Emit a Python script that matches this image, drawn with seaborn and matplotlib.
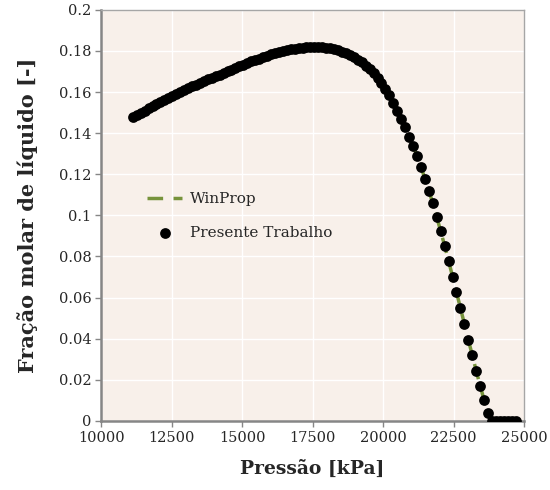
import numpy as np
import pandas as pd
import matplotlib
matplotlib.use("Agg")
import matplotlib.pyplot as plt
import seaborn as sns

pressure = [11120, 11260, 11400, 11540, 11680, 11820, 11960, 12100, 12240, 12380,
            12520, 12660, 12800, 12940, 13080, 13220, 13360, 13500, 13640, 13780,
            13920, 14060, 14200, 14340, 14480, 14620, 14760, 14900, 15040, 15180,
            15320, 15460, 15600, 15740, 15880, 16020, 16160, 16300, 16440, 16580,
            16720, 16860, 17000, 17140, 17280, 17420, 17560, 17700, 17840, 17980,
            18120, 18260, 18400, 18540, 18680, 18820, 18960, 19100, 19240, 19380,
            19520, 19660, 19800, 19940, 20080, 20220, 20360, 20500, 20640, 20780,
            20920, 21060, 21200, 21340, 21480, 21620, 21760, 21900, 22040, 22180,
            22320, 22460, 22600, 22740, 22880, 23020, 23160, 23300, 23440, 23580,
            23720, 23860, 24000, 24140, 24280, 24420, 24560, 24700]
frac_liq = [0.1477, 0.1488, 0.1499, 0.1510, 0.1520, 0.1531, 0.1541, 0.1551, 0.1561, 0.1571,
            0.1581, 0.1590, 0.1600, 0.1609, 0.1618, 0.1627, 0.1636, 0.1645, 0.1653, 0.1661,
            0.1669, 0.1677, 0.1685, 0.1693, 0.1701, 0.1709, 0.1717, 0.1725, 0.1733, 0.1741,
            0.1749, 0.1756, 0.1763, 0.1771, 0.1777, 0.1783, 0.1789, 0.1794, 0.1799, 0.1803,
            0.1807, 0.1810, 0.1813, 0.1815, 0.1817, 0.1818, 0.1818, 0.1818, 0.1817, 0.1815,
            0.1812, 0.1808, 0.1803, 0.1797, 0.1789, 0.1780, 0.1770, 0.1758, 0.1745, 0.1729,
            0.1712, 0.1692, 0.1668, 0.1643, 0.1615, 0.1585, 0.1548, 0.1510, 0.1471, 0.1429,
            0.1383, 0.1338, 0.1290, 0.1237, 0.1178, 0.1120, 0.1059, 0.0992, 0.0923, 0.0852,
            0.0779, 0.0702, 0.0626, 0.0550, 0.0472, 0.0395, 0.0320, 0.0244, 0.0171, 0.0102,
            0.0038, 0.0, 0.0, 0.0, 0.0, 0.0, 0.0, 0.0]
winprop = frac_liq

xticks = [10000, 12500, 15000, 17500, 20000, 22500, 25000]
yticks = [0, 0.02, 0.04, 0.06, 0.08, 0.1, 0.12, 0.14, 0.16, 0.18, 0.2]
ytick_labels = ["0", "0.02", "0.04", "0.06", "0.08", "0.1", "0.12", "0.14", "0.16", "0.18", "0.2"]

df = pd.DataFrame({"p": pressure, "x": frac_liq, "w": winprop})

sns.set_style("whitegrid", {"axes.facecolor": "#F8F0EA", "grid.color": "white"})
plt.rcParams["font.family"] = ["DejaVu Serif"]

fig = plt.figure(figsize=(5.5, 4.9), dpi=100)
ax = fig.add_axes([0.184, 0.141, 0.769, 0.839])

sns.lineplot(data=df, x="p", y="w", ax=ax, color="#77933C", linewidth=2.5,
             label="WinProp", zorder=2)
ax.lines[0].set_dashes([4.5, 3])
sns.scatterplot(data=df, x="p", y="x", ax=ax, color="black", s=60,
                edgecolor="black", linewidth=0, label="Presente Trabalho", zorder=3)

ax.set_xlim(10000, 25000)
ax.set_ylim(0, 0.2)
ax.set_xticks(xticks)
ax.set_xticklabels([str(t) for t in xticks])
ax.set_yticks(yticks)
ax.set_yticklabels(ytick_labels)
ax.tick_params(axis="both", labelsize=10.5, length=4, width=1, color="#868686",
               direction="out", pad=3, bottom=True, left=True)
ax.grid(True, color="white", linewidth=1)
for side in ["left", "bottom"]:
    ax.spines[side].set_color("#868686")
    ax.spines[side].set_linewidth(1.8)
for side in ["top", "right"]:
    ax.spines[side].set_color("#A6A6A6")
    ax.spines[side].set_linewidth(1.0)

ax.set_xlabel("Pressão [kPa]", fontsize=13.5, fontweight="bold", labelpad=11)
ax.set_ylabel("Fração molar de líquido [-]", fontsize=15, fontweight="bold", labelpad=15)

leg = ax.legend(loc="upper left", bbox_to_anchor=(0.076, 0.59), frameon=False,
                fontsize=11, handlelength=2.3, labelspacing=1.3, handletextpad=0.5)

fig.savefig("out.png", dpi=100)
